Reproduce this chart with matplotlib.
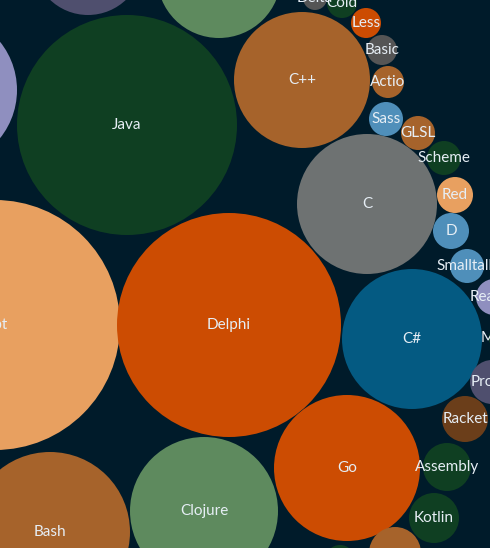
import matplotlib
matplotlib.use("Agg")
import matplotlib.pyplot as plt
from matplotlib.patches import Circle

names = ["Java", "C++", "", "", "", "JavaScript", "Delphi", "C", "C#", "Go", "Clojure", "Bash",
         "Less", "Cold", "Delta", "Basic", "Actio", "Sass", "GLSL", "Scheme", "Red", "D",
         "Smalltalk", "Reason", "Matlab", "Prolog", "Racket", "Assembly", "Kotlin", "", ""]
# layout (pixel space of the packed view)
cx = [127, 302, 219, 88, -60, -5, 229, 367, 412, 347, 204, 50,
      366, 342, 315, 382, 388, 386, 418, 444, 455, 451,
      467, 494, 504, 492, 465, 447, 434, 395, 340]
cy = [125, 80, -24, -40, 90, 325, 325, 204, 339, 468, 511, 532,
      23, 3, -2, 50, 82, 119, 133, 158, 195, 231,
      266, 297, 338, 382, 419, 467, 518, 553, 560]
radius = [110, 68, 62, 55, 77, 125, 112, 70, 70, 73, 74, 80,
          15, 15, 12, 15, 16, 17, 17, 17, 18, 18,
          17, 18, 15, 22, 23, 24, 25, 26, 15]
colors = ["#0f3f22", "#a6632b", "#5e8a5e", "#4f4f6e", "#8f8fbf", "#e8a060", "#cc4c02",
          "#6e7272", "#045a82", "#cc4c02", "#5e8a5e", "#a6632b",
          "#cc4c02", "#0f3f22", "#555555", "#555555", "#a6632b", "#4f8fba", "#a6632b",
          "#0f3f22", "#e8a060", "#4f8fba", "#4f8fba", "#8f8fbf", "#0f3f22", "#4f4f6e",
          "#6b3e1a", "#0f3f22", "#0f3f22", "#a6632b", "#0f3f22"]

fig = plt.figure(figsize=(4.9, 5.48), dpi=100, facecolor="#001b2a")
ax = fig.add_axes([0, 0, 1, 1])
ax.set_facecolor("#001b2a")
ax.set_xlim(0, 490)
ax.set_ylim(548, 0)
ax.axis("off")
for n, x, y, r, c in zip(names, cx, cy, radius, colors):
    ax.add_patch(Circle((x, y), r, facecolor=c, edgecolor="none"))
    if n:
        tx = -26 if n == "JavaScript" else x
        ax.text(tx, y, n, ha="center", va="center", color="#e6eef5",
                fontsize=11, family=["Lato", "DejaVu Sans"], clip_on=True)
fig.savefig("out.png", dpi=100, facecolor="#001b2a")
